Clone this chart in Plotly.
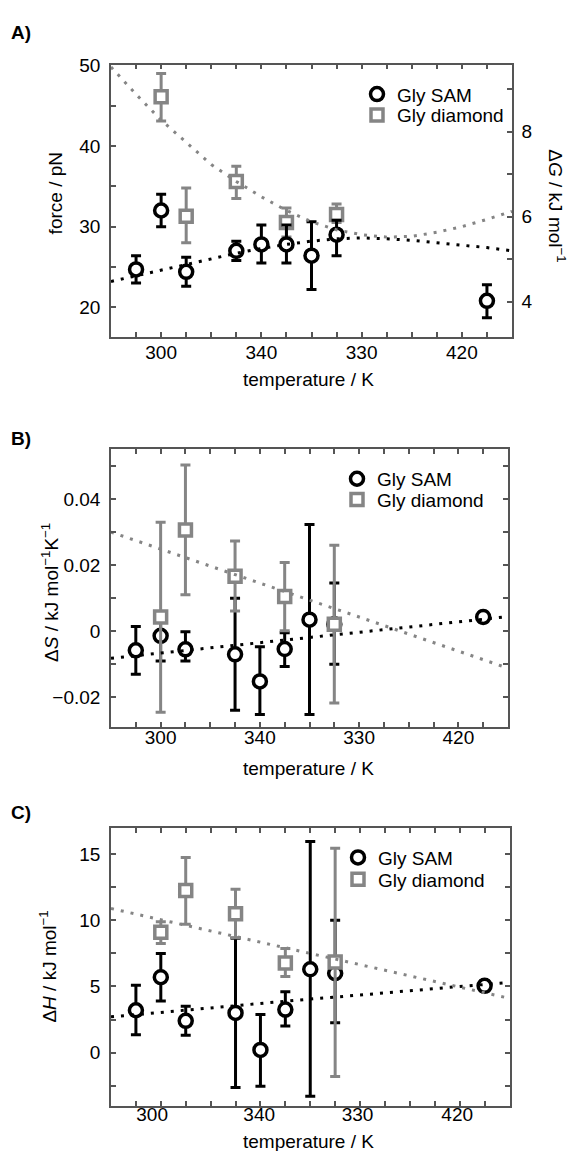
import plotly.graph_objects as go

# ---- data ----
T_SAM = [290, 300, 310, 330, 340, 350, 360, 370, 430]
T_DIA = [300, 310, 330, 350, 370]

# A) force / pN
force_sam = [24.7, 32.0, 24.4, 27.0, 27.8, 27.8, 26.4, 29.0, 20.8]
force_sam_hi = [26.4, 34.0, 26.2, 28.2, 30.2, 30.2, 30.6, 30.8, 22.8]
force_sam_lo = [23.0, 30.0, 22.6, 25.8, 25.5, 25.5, 22.2, 26.4, 18.7]
force_dia = [46.1, 31.3, 35.6, 30.5, 31.5]
force_dia_hi = [49.0, 34.8, 37.5, 32.3, 32.8]
force_dia_lo = [43.1, 28.0, 33.5, 28.7, 30.5]

FIT_T_A = [280, 290, 300, 310, 320, 330, 340, 350, 360, 370, 380, 390, 400, 410, 420, 430, 440]
force_fit_sam = [23.2, 23.9, 24.6, 25.3, 26.0, 26.7, 27.3, 27.8, 28.2, 28.5, 28.6, 28.5, 28.3, 28.0, 27.7, 27.4, 27.0]
force_fit_dia = [49.8, 46.4, 43.2, 40.4, 37.7, 35.6, 33.7, 32.0, 30.6, 29.6, 29.0, 28.7, 28.8, 29.3, 30.0, 30.9, 31.9]

# B) dS / kJ mol-1 K-1
ds_sam = [-0.0058, -0.0014, -0.0055, -0.0070, -0.0152, -0.0054, 0.0035, 0.0021, 0.0043]
ds_sam_hi = [0.0014, 0.0055, -0.0002, 0.0100, -0.0047, -0.0005, 0.0323, 0.0146, 0.0058]
ds_sam_lo = [-0.0130, -0.0090, -0.0090, -0.0239, -0.0252, -0.0107, -0.0252, -0.0100, 0.0028]
ds_dia = [0.0043, 0.0306, 0.0166, 0.0105, 0.0021]
ds_dia_hi = [0.0330, 0.0503, 0.0273, 0.0208, 0.0260]
ds_dia_lo = [-0.0245, 0.0110, 0.0061, 0.0001, -0.0217]

FIT_T = [280, 300, 320, 340, 360, 380, 400, 420, 440]
ds_fit_sam = [-0.0082, -0.0066, -0.0050, -0.0034, -0.0019, -0.0003, 0.0013, 0.0029, 0.0044]
ds_fit_dia = [0.0300, 0.0248, 0.0196, 0.0145, 0.0094, 0.0043, -0.0009, -0.0060, -0.0112]

# C) dH / kJ mol-1
dh_sam = [3.2, 5.7, 2.4, 3.0, 0.2, 3.25, 6.3, 6.0, 5.05]
dh_sam_hi = [5.1, 7.5, 3.5, 8.65, 2.88, 4.6, 15.96, 10.0, 5.45]
dh_sam_lo = [1.35, 3.9, 1.3, -2.65, -2.55, 2.0, -3.3, 2.25, 4.65]
dh_dia = [9.1, 12.25, 10.5, 6.78, 6.85]
dh_dia_hi = [9.9, 14.75, 12.35, 7.88, 15.45]
dh_dia_lo = [8.25, 9.7, 8.68, 5.75, -1.82]

dh_fit_sam = [2.7, 3.05, 3.4, 3.75, 4.05, 4.35, 4.7, 5.0, 5.3]
dh_fit_dia = [10.9, 10.05, 9.2, 8.35, 7.5, 6.65, 5.8, 4.95, 4.1]

X_TICKTEXT = ["300", "340", "330", "420"]

# ---- styling ----
W, H = 573, 1151
FONT = "Liberation Sans, Arial, sans-serif"
FS = 19
BLACK = "#000000"
GREY = "#858585"
AXC = "#555555"


def px(x):
    return x / W


def py(y):
    return 1 - y / H


def err(vals, hi, lo):
    return dict(type="data", symmetric=False,
                array=[h - v for v, h in zip(vals, hi)],
                arrayminus=[v - l for v, l in zip(vals, lo)],
                thickness=3, width=5)


def points(x, y, hi, lo, name, color, symbol, xa, ya, legend):
    e = err(y, hi, lo)
    e["color"] = color
    return go.Scatter(
        x=x, y=y, mode="markers", name=name, error_y=e,
        marker=dict(symbol=symbol, size=13 if symbol == "circle" else 12, color="white",
                    line=dict(color=color, width=3.5)),
        xaxis=xa, yaxis=ya, legend=legend, showlegend=True)


def fit(x, y, color, xa, ya):
    return go.Scatter(x=x, y=y, mode="lines", line=dict(color=color, width=3, dash="3px,7px"),
                      xaxis=xa, yaxis=ya, showlegend=False, hoverinfo="skip")


fig = go.Figure()

# A: SAM drawn over diamond
fig.add_trace(points(T_DIA, force_dia, force_dia_hi, force_dia_lo, "Gly diamond", GREY, "square", "x", "y", "legend2"))
fig.add_trace(points(T_SAM, force_sam, force_sam_hi, force_sam_lo, "Gly SAM", BLACK, "circle", "x", "y", "legend"))
fig.add_trace(fit(FIT_T_A, force_fit_sam, BLACK, "x", "y"))
fig.add_trace(fit(FIT_T_A, force_fit_dia, GREY, "x", "y"))
fig.add_trace(go.Scatter(x=[], y=[], xaxis="x", yaxis="y4", showlegend=False))

# B: diamond drawn over SAM
fig.add_trace(points(T_SAM, ds_sam, ds_sam_hi, ds_sam_lo, "Gly SAM", BLACK, "circle", "x2", "y2", "legend3"))
fig.add_trace(points(T_DIA, ds_dia, ds_dia_hi, ds_dia_lo, "Gly diamond", GREY, "square", "x2", "y2", "legend4"))
fig.add_trace(fit(FIT_T, ds_fit_sam, BLACK, "x2", "y2"))
fig.add_trace(fit(FIT_T, ds_fit_dia, GREY, "x2", "y2"))

# C
fig.add_trace(points(T_SAM, dh_sam, dh_sam_hi, dh_sam_lo, "Gly SAM", BLACK, "circle", "x3", "y3", "legend5"))
fig.add_trace(points(T_DIA, dh_dia, dh_dia_hi, dh_dia_lo, "Gly diamond", GREY, "square", "x3", "y3", "legend6"))
fig.add_trace(fit(FIT_T, dh_fit_sam, BLACK, "x3", "y3"))
fig.add_trace(fit(FIT_T, dh_fit_dia, GREY, "x3", "y3"))


def axis_style(**kw):
    d = dict(showline=True, linecolor=AXC, linewidth=1.5, ticks="inside", ticklen=5,
             tickcolor=AXC, tickwidth=1.5, showgrid=False, zeroline=False,
             tickfont=dict(family=FONT, size=FS, color=BLACK))
    d.update(kw)
    return d


x_minor = dict(tickmode="array", tickvals=[290, 300, 310, 320, 330, 340, 350, 360, 370, 380, 390, 400, 410, 420, 430],
               ticks="inside", ticklen=5, tickcolor=AXC, tickwidth=1.5, showgrid=False)


def x_axis(tickvals, standoff, **kw):
    return axis_style(range=[280, 440], tickmode="array", tickvals=tickvals, ticktext=X_TICKTEXT,
                      mirror="ticks", minor=x_minor, ticklabelstandoff=standoff, **kw)


def y_minor(vals):
    return dict(tickmode="array", tickvals=vals, ticks="inside", ticklen=5,
                tickcolor=AXC, tickwidth=1.5, showgrid=False)


fig.update_layout(
    width=W, height=H, margin=dict(l=0, r=0, t=0, b=0),
    paper_bgcolor="white", plot_bgcolor="white",
    font=dict(family=FONT, size=FS, color=BLACK),
    xaxis=x_axis([300, 340, 380, 420], -3, domain=[px(111), px(512)], anchor="y"),
    yaxis=axis_style(domain=[py(330), py(55)], anchor="x", range=[16.3, 50.1],
                     tickmode="array", tickvals=[20, 30, 40, 50], mirror=False,
                     minor=y_minor([25, 35, 45]), ticklabelstandoff=5),
    yaxis4=axis_style(overlaying="y", side="right", anchor="x", range=[3.17, 9.58],
                      tickmode="array", tickvals=[4, 6, 8], minor=y_minor([5, 7, 9]),
                      ticklabelstandoff=4),
    xaxis2=x_axis([300, 340, 380, 420], -8, domain=[px(111), px(508)], anchor="y2"),
    yaxis2=axis_style(domain=[py(723.3), py(443.3)], anchor="x2", range=[-0.029, 0.055],
                      tickmode="array", tickvals=[-0.02, 0, 0.02, 0.04],
                      ticktext=["\u22120.02", "0", "0.02", "0.04"], mirror="ticks",
                      minor=y_minor([-0.01, 0.01, 0.03, 0.05]), ticklabelstandoff=5),
    xaxis3=x_axis([296.5, 339.5, 379, 419], -10, domain=[px(111), px(509.5)], anchor="y3", ticklen=0),
    yaxis3=axis_style(domain=[py(1105.7), py(825)], anchor="x3", range=[-4.05, 17.0],
                      tickmode="array", tickvals=[0, 5, 10, 15], mirror="ticks",
                      minor=y_minor([-2.5, 2.5, 7.5, 12.5]), ticklabelstandoff=5),
)

# one legend per entry so the rows can sit as close as in the reference
leg = dict(bgcolor="rgba(0,0,0,0)", font=dict(family=FONT, size=FS, color=BLACK),
           xanchor="left", yanchor="middle", itemsizing="trace")
fig.update_layout(
    legend=dict(x=px(357), y=py(85), **leg),
    legend2=dict(x=px(357), y=py(106), **leg),
    legend3=dict(x=px(337), y=py(473), **leg),
    legend4=dict(x=px(337), y=py(494), **leg),
    legend5=dict(x=px(338), y=py(855), **leg),
    legend6=dict(x=px(338), y=py(877), **leg),
)

annos = [
    dict(text="<b>A)</b>", x=px(21), y=py(23)),
    dict(text="<b>B)</b>", x=px(21), y=py(432)),
    dict(text="<b>C)</b>", x=px(21), y=py(810)),
    dict(text="force / pN", x=px(55), y=py(185), textangle=-90),
    dict(text="\u0394<i>G</i> / kJ mol<sup>\u22121</sup>", x=px(557), y=py(197), textangle=90),
    dict(text="\u0394<i>S</i> / kJ mol<sup>\u22121</sup>K<sup>\u22121</sup>", x=px(50), y=py(588), textangle=-90),
    dict(text="\u0394<i>H</i> / kJ mol<sup>\u22121</sup>", x=px(48), y=py(965), textangle=-90),
    dict(text="temperature / K", x=px(308), y=py(373)),
    dict(text="temperature / K", x=px(308), y=py(765)),
    dict(text="temperature / K", x=px(308), y=py(1141)),
]
for a in annos:
    a.update(xref="paper", yref="paper", showarrow=False, xanchor="center", yanchor="middle",
             font=dict(family=FONT, size=FS, color=BLACK))
fig.update_layout(annotations=annos)

# pin the figure to the page corner (the default body margin shifts it)
PIN = ("document.body.style.margin='0px';"
       "var d=document.getElementsByClassName('plotly-graph-div')[0];"
       "d.style.position='absolute';d.style.left='0px';d.style.top='0px';")
fig.write_html("out.html", config={"displayModeBar": False}, post_script=PIN)
